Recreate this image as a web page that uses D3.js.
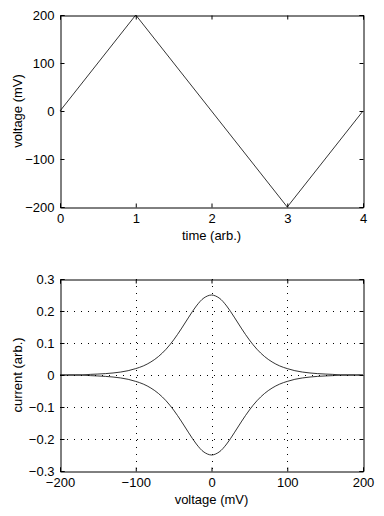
<!DOCTYPE html>
<html>
<head>
<meta charset="utf-8">
<script src="https://cdn.jsdelivr.net/npm/d3@7"></script>
<style>
  body { margin: 0; background: #fff; }
  svg { display: block; font-family: "Liberation Sans", Arial, Helvetica, sans-serif; }
  .tick text { font-size: 13px; fill: #000; }
  .lbl { font-size: 13px; fill: #000; }
  .grid line { stroke: #000; stroke-width: 1; stroke-dasharray: 1,6; }
</style>
</head>
<body>
<svg width="384" height="516"></svg>
<script>
// triangle sweep: time (arb.) vs voltage (mV)
const sweepTime = [0, 1, 3, 4];
const sweepVoltage = [0, 200, -200, 0];

// current vs voltage (mV, arb.)
const cvVoltage = [-200, -190, -180, -170, -160, -150, -140, -130, -120, -110, -100,
  -90, -80, -70, -60, -50, -40, -30, -20, -10, 0,
  10, 20, 30, 40, 50, 60, 70, 80, 90, 100,
  110, 120, 130, 140, 150, 160, 170, 180, 190, 200];
const currentForward = [0, 0, 0, 0, 0.002, 0.003, 0.0043, 0.0063, 0.0092, 0.0135, 0.02,
  0.0284, 0.0408, 0.0578, 0.0805, 0.1096, 0.1439, 0.1809, 0.2157, 0.2408, 0.25,
  0.2408, 0.2157, 0.1809, 0.1439, 0.1096, 0.0805, 0.0578, 0.0408, 0.0284, 0.02,
  0.0135, 0.0092, 0.0063, 0.0043, 0.003, 0.002, 0, 0, 0, 0];
const currentReverse = [0, 0, 0, 0, -0.002, -0.003, -0.0043, -0.0063, -0.0092, -0.0135, -0.02,
  -0.0284, -0.0408, -0.0578, -0.0805, -0.1096, -0.1439, -0.1809, -0.2157, -0.2408, -0.25,
  -0.2408, -0.2157, -0.1809, -0.1439, -0.1096, -0.0805, -0.0578, -0.0408, -0.0284, -0.02,
  -0.0135, -0.0092, -0.0063, -0.0043, -0.003, -0.002, 0, 0, 0, 0];

const timeTicks = [0, 1, 2, 3, 4];
const voltTicks = [-200, -100, 0, 100, 200];
const currentTicks = [-0.3, -0.2, -0.1, 0, 0.1, 0.2, 0.3];

const svg = d3.select("svg");
const left = 60, right = 363;
const tickLen = 4;

const fmtMinus = s => String(s).replace("-", "\u2212");

function drawPanel(opts) {
  const { top, bottom, xDomain, yDomain, xTicks, yTicks, xLabel, yLabel, grid } = opts;
  const x = d3.scaleLinear().domain(xDomain).range([left, right]);
  const y = d3.scaleLinear().domain(yDomain).range([bottom, top]);
  const g = svg.append("g");

  if (grid) {
    const gg = g.append("g").attr("class", "grid");
    gg.selectAll(".gx")
      .data(xTicks.slice(1, -1))
      .enter()
      .append("line")
      .attr("x1", d => Math.round(x(d)) + 0.5)
      .attr("x2", d => Math.round(x(d)) + 0.5)
      .attr("y1", top)
      .attr("y2", bottom);
    gg.selectAll(".gy")
      .data(yTicks.slice(1, -1))
      .enter()
      .append("line")
      .attr("y1", d => Math.round(y(d)) + 0.5)
      .attr("y2", d => Math.round(y(d)) + 0.5)
      .attr("x1", left)
      .attr("x2", right);
  }

  const fmtY = opts.yFormat || (d => d);

  // bottom & left with labels, top & right ticks only (inward)
  g.append("g")
    .attr("transform", `translate(0,${bottom + 0.5})`)
    .call(d3.axisBottom(x).tickValues(xTicks).tickSize(-tickLen).tickPadding(tickLen + 2)
      .tickFormat(d => fmtMinus(d)));
  g.append("g")
    .attr("transform", `translate(0,${top + 0.5})`)
    .call(d3.axisTop(x).tickValues(xTicks).tickSize(-tickLen).tickFormat(""));
  g.append("g")
    .attr("transform", `translate(${left + 0.5},0)`)
    .call(d3.axisLeft(y).tickValues(yTicks).tickSize(-tickLen).tickPadding(tickLen + 2)
      .tickFormat(d => fmtMinus(fmtY(d))));
  g.append("g")
    .attr("transform", `translate(${right + 0.5},0)`)
    .call(d3.axisRight(y).tickValues(yTicks).tickSize(-tickLen).tickFormat(""));

  g.selectAll(".domain").attr("stroke", "#000");
  g.selectAll(".tick line").attr("stroke", "#000");
  g.selectAll(".tick text").attr("font-family", null).attr("font-size", null);

  g.append("text")
    .attr("class", "lbl")
    .attr("x", (left + right) / 2)
    .attr("y", bottom + 33)
    .attr("text-anchor", "middle")
    .text(xLabel);
  g.append("text")
    .attr("class", "lbl")
    .attr("transform", `translate(22,${(top + bottom) / 2}) rotate(-90)`)
    .attr("text-anchor", "middle")
    .text(yLabel);

  return { x, y, g };
}

// top panel
const p1 = drawPanel({
  top: 15, bottom: 207,
  xDomain: [0, 4], yDomain: [-200, 200],
  xTicks: timeTicks, yTicks: voltTicks,
  xLabel: "time (arb.)", yLabel: "voltage (mV)",
  grid: false,
});
p1.g.append("path")
  .datum(d3.zip(sweepTime, sweepVoltage))
  .attr("fill", "none")
  .attr("stroke", "#000")
  .attr("stroke-width", 0.8)
  .attr("d", d3.line().x(d => p1.x(d[0])).y(d => p1.y(d[1])));

// bottom panel
const p2 = drawPanel({
  top: 279, bottom: 471,
  xDomain: [-200, 200], yDomain: [-0.3, 0.3],
  xTicks: voltTicks, yTicks: currentTicks,
  xLabel: "voltage (mV)", yLabel: "current (arb.)",
  grid: true,
  yFormat: d => (d === 0 ? "0" : d3.format(".1f")(d)),
});
const cvLine = d3.line()
  .x(d => p2.x(d[0]))
  .y(d => p2.y(d[1]))
  .curve(d3.curveCatmullRom);
[currentForward, currentReverse].forEach(series => {
  p2.g.append("path")
    .datum(d3.zip(cvVoltage, series))
    .attr("fill", "none")
    .attr("stroke", "#000")
    .attr("stroke-width", 0.8)
    .attr("d", cvLine);
});
</script>
</body>
</html>
